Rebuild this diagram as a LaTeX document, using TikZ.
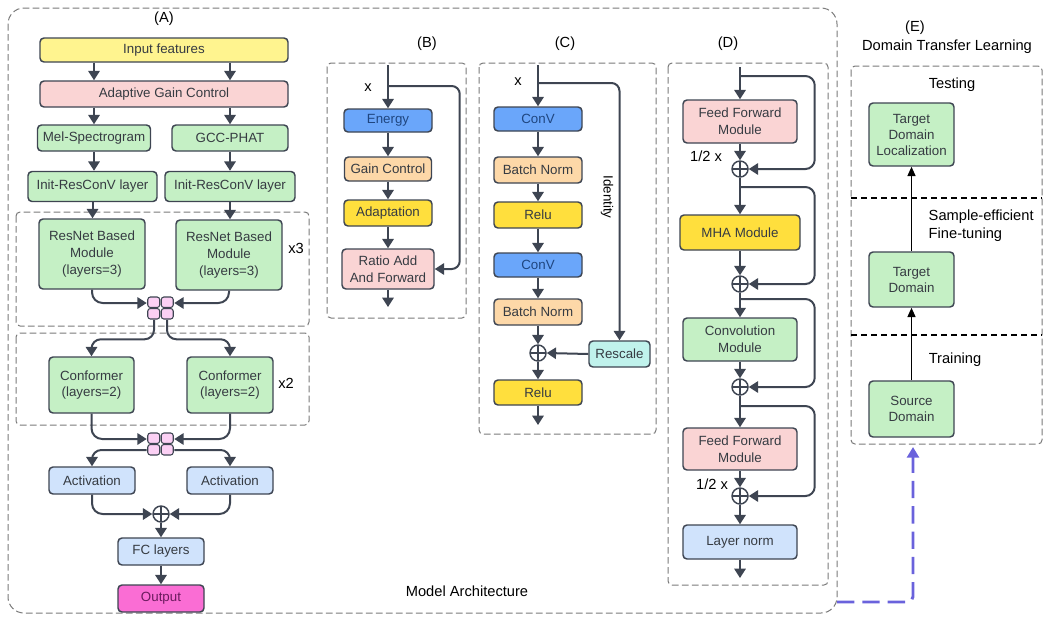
\documentclass[tikz,border=0pt]{standalone}
\usepackage{fontspec}
\setmainfont{Liberation Sans}
\usetikzlibrary{arrows.meta,calc}
\definecolor{linegray}{HTML}{3E4552}
\definecolor{boxgray}{HTML}{7A7A7A}
\definecolor{txtgray}{HTML}{363B42}
\definecolor{darkblue}{HTML}{1F4680}
\definecolor{paleyellow}{HTML}{FFF48F}
\definecolor{palepink}{HTML}{FAD4D4}
\definecolor{palegreen}{HTML}{C5F0C5}
\definecolor{deepblue}{HTML}{6AA6FA}
\definecolor{peach}{HTML}{FDD8A8}
\definecolor{gold}{HTML}{FFDF3D}
\definecolor{paleblue}{HTML}{D0E3FC}
\definecolor{aqua}{HTML}{C0F2EC}
\definecolor{hotpink}{HTML}{FA6DD4}
\definecolor{plum}{HTML}{6B1B5E}
\definecolor{catpink}{HTML}{FBD0F4}
\definecolor{linkblue}{HTML}{6A62DC}
\begin{document}
\begin{tikzpicture}[
		x=0.75pt, y=-0.75pt,
		every node/.style={font=\fontsize{10}{12.5}\selectfont},
		blk/.style={
			draw=linegray,
			line width=1.1pt,
			rounded corners=3pt,
			inner sep=1pt,
			align=center,
			text=txtgray
		},
		sz/.style 2 args={minimum width=#1*0.75pt, minimum height=#2*0.75pt},
		arr/.style={draw=linegray, line width=1.5pt, -{Triangle[width=8.5pt,length=7pt]}},
		earr/.style={draw=black, line width=1.1pt, -{Triangle[width=6pt,length=7pt]}},
		link/.style={draw=linkblue, line width=2.2pt, dash pattern=on 13pt off 6pt,
			rounded corners=4pt, -{Triangle[width=9pt,length=8pt]}},
		grp/.style={draw=boxgray, line width=0.75pt, dash pattern=on 5pt off 2.5pt, rounded corners=3pt},
		plus/.style={
			circle, draw=linegray, line width=1.1pt, minimum size=12pt, inner sep=0pt,
			path picture={\draw[linegray, line width=1.1pt]
				(path picture bounding box.north) -- (path picture bounding box.south)
				(path picture bounding box.west) -- (path picture bounding box.east);}
		},
		catbox/.style={sz={27}{23}, inner sep=0pt},
		catcell/.style={draw=linegray, line width=0.8pt, fill=catpink, rounded corners=2pt,
			sz={12}{10.5}, inner sep=0pt},
		lbl/.style={font=\fontsize{11}{13.5}\selectfont}
	]
	\useasboundingbox (0,0) rectangle (1049,618);
	\draw[grp, rounded corners=12pt] (8,8) rectangle (837,613);
	\node[lbl] (arch) at (467,591) {Model Architecture};

	% (A)
	\node[lbl] (labA) at (164,19) {(A)};
	\node[blk, fill=paleyellow, sz={248}{24}] (inp) at (164,50) {Input features};
	\node[blk, fill=palepink, sz={248}{26}] (agc) at (164,94) {Adaptive Gain Control};
	\node[blk, fill=palegreen, sz={113}{26}] (mel) at (94,138) {Mel-Spectrogram};
	\node[blk, fill=palegreen, sz={116}{26}] (gcc) at (230,138) {GCC-PHAT};
	\node[blk, fill=palegreen, sz={129}{30}] (initL) at (92.5,186.5) {Init-ResConV layer};
	\node[blk, fill=palegreen, sz={130}{30}] (initR) at (230,186.5) {Init-ResConV layer};
	\draw[grp] (16,212) rectangle (309,326);
	\node[blk, fill=palegreen, sz={106}{70}] (resL) at (92,254) {ResNet Based\\Module\\(layers=3)};
	\node[blk, fill=palegreen, sz={106}{70}] (resR) at (229,255) {ResNet Based\\Module\\(layers=3)};
	\node[lbl] (rep3) at (296,248) {x3};
	\node[catbox] (cat1) at (160.5,308) {};
	\draw[grp] (16,333) rectangle (309,425);
	\node[blk, fill=palegreen, sz={85}{56}] (conL) at (91.5,385) {Conformer\\(layers=2)};
	\node[blk, fill=palegreen, sz={86}{56}] (conR) at (230,385) {Conformer\\(layers=2)};
	\node[lbl] (rep2) at (286,383) {x2};
	\node[catbox] (cat2) at (160.5,444) {};
	\foreach \c in {cat1,cat2}
		\foreach \dx in {-6.75,6.75}
			\foreach \dy in {-5.75,5.75}
				\node[catcell] at ($(\c)+(\dx,\dy)$) {};
	\node[blk, fill=paleblue, sz={86}{27}] (actL) at (92,480.5) {Activation};
	\node[blk, fill=paleblue, sz={86}{27}] (actR) at (230,480.5) {Activation};
	\node[plus] (addA) at (161,514) {};
	\node[blk, fill=paleblue, sz={86}{27}] (fc) at (161,551.5) {FC layers};
	\node[blk, fill=hotpink, text=plum, sz={86}{27}] (out) at (161,598.5) {Output};

	\draw[arr] (inp.south -| mel) -- (agc.north -| mel);
	\draw[arr] (inp.south -| gcc) -- (agc.north -| gcc);
	\draw[arr] (agc.south -| mel) -- (mel.north);
	\draw[arr] (agc.south -| gcc) -- (gcc.north);
	\draw[arr] (mel.south) -- (mel.south |- initL.north);
	\draw[arr] (gcc.south) -- (initR.north);
	\draw[arr] (initL.south) -- (initL.south |- resL.north);
	\draw[arr] (initR.south) -- (initR.south |- resR.north);
	\draw[arr, rounded corners=8pt] (resL.south) |- ($(cat1.west)+(0,-5)$);
	\draw[arr, rounded corners=8pt] (resR.south) |- ($(cat1.east)+(0,-5)$);
	\draw[arr, rounded corners=7pt] ($(cat1.south)+(-6.5,0)$) |- ($(conL.north)+(0,-17)$) -- (conL.north);
	\draw[arr, rounded corners=7pt] ($(cat1.south)+(6.5,0)$) |- ($(conR.north)+(0,-17)$) -- (conR.north);
	\draw[arr, rounded corners=8pt] (conL.south) |- ($(cat2.west)+(0,-5)$);
	\draw[arr, rounded corners=8pt] (conR.south) |- ($(cat2.east)+(0,-5)$);
	\draw[arr, rounded corners=7pt] ($(cat2.west)+(0,6)$) -| (actL.north);
	\draw[arr, rounded corners=7pt] ($(cat2.east)+(0,6)$) -| (actR.north);
	\draw[arr, rounded corners=8pt] (actL.south) |- (addA.west);
	\draw[arr, rounded corners=8pt] (actR.south) |- (addA.east);
	\draw[arr] (addA) -- (fc);
	\draw[arr] (fc) -- (out);

	% (B)
	\node[lbl] (labB) at (427,44) {(B)};
	\draw[grp] (327,63) rectangle (466,318);
	\coordinate (bIn) at (388,65);
	\coordinate (bSplit) at (388,86);
	\coordinate (bOut) at (388,307);
	\node[lbl] (bx) at (368,88) {x};
	\node[blk, fill=deepblue, text=darkblue, sz={88}{23}] (energy) at (388,120.5) {Energy};
	\node[blk, fill=peach, sz={87}{24}] (gainc) at (388,169) {Gain Control};
	\node[blk, fill=gold, sz={88}{26}] (adapt) at (388,213) {Adaptation};
	\node[blk, fill=palepink, sz={92}{40}] (ratio) at (388,269) {Ratio Add\\And Forward};
	\foreach \a/\b in {bIn/energy, energy/gainc, gainc/adapt, adapt/ratio, ratio/bOut}
		\draw[arr] (\a) -- (\b);
	\draw[arr, rounded corners=6pt] (bSplit) -| ($(ratio.east)+(25,0)$) -- (ratio.east);

	% (C)
	\node[lbl] (labC) at (565,44) {(C)};
	\draw[grp] (479,63) rectangle (656,434);
	\coordinate (cIn) at (538,65);
	\coordinate (cSplit) at (538,83);
	\coordinate (cOut) at (538,425);
	\node[lbl] (cx) at (518,82) {x};
	\node[blk, fill=deepblue, text=darkblue, sz={88}{24}] (conv1) at (538,119) {ConV};
	\node[blk, fill=peach, sz={88}{26}] (bn1) at (538,170) {Batch Norm};
	\node[blk, fill=gold, sz={88}{26}] (relu1) at (538,215) {Relu};
	\node[blk, fill=deepblue, text=darkblue, sz={88}{24}] (conv2) at (538,265) {ConV};
	\node[blk, fill=peach, sz={88}{26}] (bn2) at (538,312) {Batch Norm};
	\node[plus] (addC) at (538,353) {};
	\node[blk, fill=gold, sz={88}{25}] (relu2) at (538,392.5) {Relu};
	\node[blk, fill=aqua, sz={61}{26}] (rescale) at (619.5,354) {Rescale};
	\node[rotate=-90] (ident) at (607,197) {Identity};
	\foreach \a/\b in {cIn/conv1, conv1/bn1, bn1/relu1, relu1/conv2, conv2/bn2, bn2/addC, addC/relu2, relu2/cOut}
		\draw[arr] (\a) -- (\b);
	\draw[arr, rounded corners=6pt] (cSplit) -| (rescale.north);
	\draw[arr] (rescale.west) -- (addC.east);

	% (D)
	\node[lbl] (labD) at (728,44) {(D)};
	\draw[grp] (668,63) rectangle (828,585);
	\coordinate (dIn) at (740,67);
	\coordinate (dOut) at (740,578);
	\coordinate (dS1) at (740,76);
	\coordinate (dS2) at (740,187);
	\coordinate (dS3) at (740,299);
	\coordinate (dS4) at (740,406);
	\node[blk, fill=palepink, sz={114}{43}] (ff1) at (740,121.5) {Feed Forward\\Module};
	\node[plus] (add1) at (740,169) {};
	\node[lbl] (half1) at (706,156) {1/2 x};
	\node[blk, fill=gold, sz={120}{35}] (mha) at (740,232.5) {MHA Module};
	\node[plus] (add2) at (740,284) {};
	\node[blk, fill=palegreen, sz={114}{43}] (convm) at (740,339.5) {Convolution\\Module};
	\node[plus] (add3) at (740,387) {};
	\node[blk, fill=palepink, sz={114}{42}] (ff2) at (740,449) {Feed Forward\\Module};
	\node[plus] (add4) at (740,496) {};
	\node[lbl] (half2) at (712,484) {1/2 x};
	\node[blk, fill=paleblue, sz={114}{34}] (ln) at (740,542) {Layer norm};
	\foreach \a/\b in {dIn/ff1, ff1/add1, add1/mha, mha/add2, add2/convm, convm/add3, add3/ff2, ff2/add4, add4/ln, ln/dOut}
		\draw[arr] (\a) -- (\b);
	\foreach \s/\t in {dS1/add1, dS2/add2, dS3/add3, dS4/add4}
		\draw[arr, rounded corners=7pt] (\s) -| ($(\t.east)+(66,0)$) -- (\t.east);

	% (E)
	\node[lbl] (labE) at (915,28) {(E)};
	\node[lbl] (titleE) at (947,47) {Domain Transfer Learning};
	\draw[grp] (851,66) rectangle (1042,444);
	\draw[black, line width=0.9pt, dash pattern=on 4.5pt off 3pt] (851,198) -- (1042,198) (851,335) -- (1042,335);
	\node[lbl] (test) at (952,85) {Testing};
	\node[blk, fill=palegreen, sz={85}{63}, font=\fontsize{10}{12}\selectfont] (tdl) at (911.5,134.5) {Target\\Domain\\Localization};
	\node[lbl, anchor=west, align=left] (sft) at (924,226) {Sample-efficient\\Fine-tuning};
	\node[blk, fill=palegreen, sz={85}{55}, font=\fontsize{10}{12}\selectfont] (tgt) at (911.5,279.5) {Target\\Domain};
	\node[lbl] (train) at (955,360) {Training};
	\node[blk, fill=palegreen, sz={85}{56}, font=\fontsize{10}{12}\selectfont] (src) at (911.5,409) {Source\\Domain};
	\draw[earr] (src) -- (tgt);
	\draw[earr] (tgt) -- (tdl);
	\coordinate (mEnd) at (837,602);
	\coordinate (eIn) at (913,447);
	\draw[link] (mEnd) -| (eIn);
\end{tikzpicture}
\end{document}
